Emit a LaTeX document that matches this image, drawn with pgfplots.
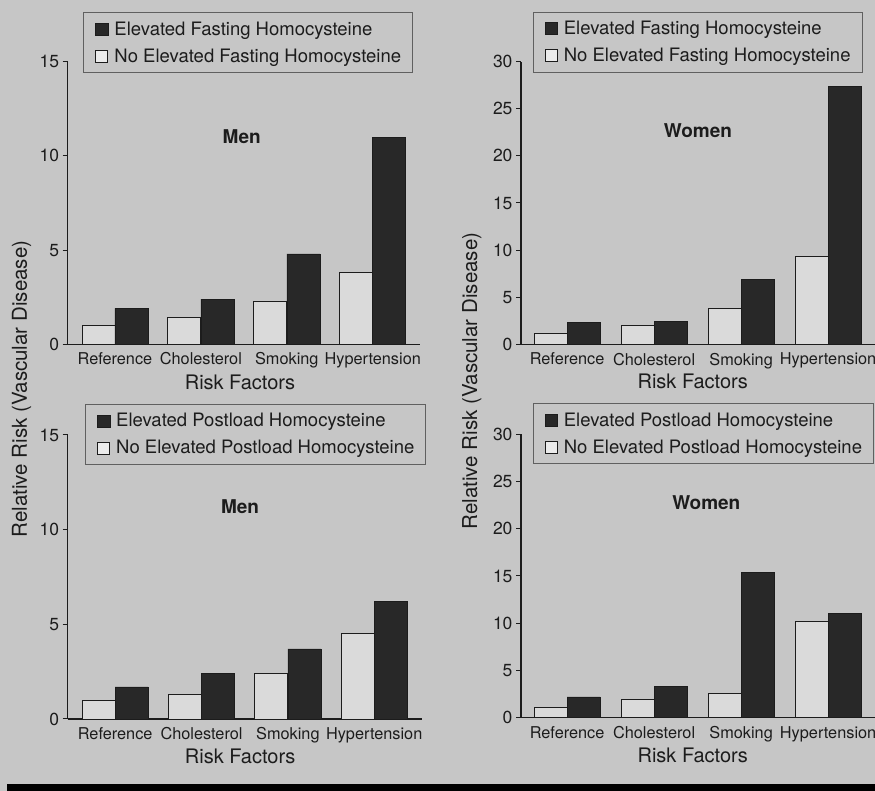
\documentclass[border=0pt]{standalone}
\usepackage{fontspec}
\setmainfont{TeX Gyre Heros}
\usepackage{pgfplots}
\pgfplotsset{compat=1.18}
\definecolor{bg}{RGB}{198,198,198}
\definecolor{barblack}{RGB}{40,40,40}
\definecolor{barwhite}{RGB}{218,218,218}
\definecolor{ink}{RGB}{28,28,28}

\pgfplotsset{
 riskpanel/.style={
  scale only axis, ybar, bar width=33pt,
  axis x line*=bottom, axis y line*=left,
  axis line style={ink, line width=1.1pt},
  ymin=0, xmin=-0.55, xmax=3.55,
  xtick={0,1,2,3}, xticklabels={Reference,Cholesterol,Smoking,Hypertension},
  x tick style={draw=none},
  y tick style={ink, line width=1pt},
  tick align=outside, major tick length=5pt,
  x tick label style={font=\fontsize{16.3}{19}\selectfont, text=ink},
  y tick label style={font=\fontsize{17.5}{20}\selectfont, text=ink},
  /pgf/number format/assume math mode=true,
  xlabel style={font=\fontsize{20}{23}\selectfont, text=ink, anchor=center},
  legend style={anchor=north west, draw=ink!70, line width=0.9pt, fill=none,
    font=\fontsize{18.5}{21}\selectfont, text=ink, inner xsep=11.5pt, inner ysep=9pt,
    row sep=12pt, nodes={inner xsep=0pt, inner ysep=0pt},
    /tikz/every odd column/.style={column sep=6pt}},
  legend cell align=left,
  reverse legend,
 },
 whitebar/.style={draw=ink, fill=barwhite, line width=0.9pt, bar shift=-16.5pt,
   legend image code/.code={\draw[##1,line width=0.8pt,fill=white!92!black] (0pt,-6pt) rectangle (12pt,6pt);}},
 blackbar/.style={draw=ink, fill=barblack, line width=0.6pt, bar shift=16.5pt,
   legend image code/.code={\draw[##1] (0pt,-6pt) rectangle (12.5pt,6pt);}},
}

\begin{document}
\begin{tikzpicture}
\useasboundingbox (0pt,0pt) rectangle (875pt,791pt);
\clip (0pt,0pt) rectangle (875pt,791pt);
\fill[bg] (0pt,0pt) rectangle (875pt,791pt);
\fill[black] (7pt,0pt) rectangle (875pt,7pt);

% Panel 1: Men, fasting
\begin{axis}[riskpanel, at={(67.7pt,446.7pt)}, anchor=south west,
  width=352.3pt, height=282.6pt, ymax=15, ytick={0,5,10,15},
  xlabel={Risk Factors}, xlabel style={at={(axis description cs:0.489,-0.1334)}},
  legend style={at={(0.0443,1.1748)}}]
\addplot[whitebar] coordinates {(0,1.0) (1,1.4) (2,2.3) (3,3.8)};
\addlegendentry{No Elevated Fasting Homocysteine}
\addplot[blackbar] coordinates {(0,1.9) (1,2.4) (2,4.8) (3,11.0)};
\addlegendentry{Elevated Fasting Homocysteine}
\node[font=\bfseries\fontsize{19}{22}\selectfont, text=ink] at (rel axis cs:0.494,0.7346) {Men};
\end{axis}

% Panel 2: Women, fasting
\begin{axis}[riskpanel, at={(521pt,446.7pt)}, anchor=south west,
  width=359.3pt, height=282.6pt, xmin=-0.53, xmax=3.6, ymax=30, ytick={0,5,...,30},
  xlabel={Risk Factors}, xlabel style={at={(axis description cs:0.478,-0.13)}},
  legend style={at={(0.0326,1.177)}}]
\addplot[whitebar] coordinates {(0,1.2) (1,2.0) (2,3.8) (3,9.3)};
\addlegendentry{No Elevated Fasting Homocysteine}
\addplot[blackbar] coordinates {(0,2.3) (1,2.4) (2,6.9) (3,27.4)};
\addlegendentry{Elevated Fasting Homocysteine}
\node[font=\bfseries\fontsize{19}{22}\selectfont, text=ink] at (rel axis cs:0.4926,0.7548) {Women};
\end{axis}

% Panel 3: Men, postload
\begin{axis}[riskpanel, at={(67.7pt,72pt)}, anchor=south west,
  width=354pt, height=284pt, ymax=15, ytick={0,5,10,15},
  xlabel={Risk Factors}, xlabel style={at={(axis description cs:0.487,-0.1327)}},
  legend style={at={(0.0489,1.109)}}]
\addplot[whitebar] coordinates {(0,1.0) (1,1.3) (2,2.4) (3,4.5)};
\addlegendentry{No Elevated Postload Homocysteine}
\addplot[blackbar] coordinates {(0,1.7) (1,2.4) (2,3.7) (3,6.2)};
\addlegendentry{Elevated Postload Homocysteine}
\node[font=\bfseries\fontsize{19}{22}\selectfont, text=ink] at (rel axis cs:0.487,0.7475) {Men};
\end{axis}

% Panel 4: Women, postload
\begin{axis}[riskpanel, at={(521pt,73.3pt)}, anchor=south west,
  width=359.3pt, height=283.4pt, xmin=-0.53, xmax=3.6, ymax=30, ytick={0,5,...,30},
  xlabel={Risk Factors}, xlabel style={at={(axis description cs:0.478,-0.134)}},
  legend style={at={(0.0326,1.109)}}]
\addplot[whitebar] coordinates {(0,1.1) (1,1.9) (2,2.6) (3,10.2)};
\addlegendentry{No Elevated Postload Homocysteine}
\addplot[blackbar] coordinates {(0,2.2) (1,3.3) (2,15.4) (3,11.0)};
\addlegendentry{Elevated Postload Homocysteine}
\node[font=\bfseries\fontsize{19}{22}\selectfont, text=ink] at (rel axis cs:0.5157,0.760) {Women};
\end{axis}

\node[rotate=90, font=\fontsize{20.5}{24}\selectfont, text=ink] at (21.7pt,402pt) {Relative Risk (Vascular Disease)};
\node[rotate=90, font=\fontsize{20.5}{24}\selectfont, text=ink] at (471.7pt,410pt) {Relative Risk (Vascular Disease)};
\end{tikzpicture}
\end{document}
